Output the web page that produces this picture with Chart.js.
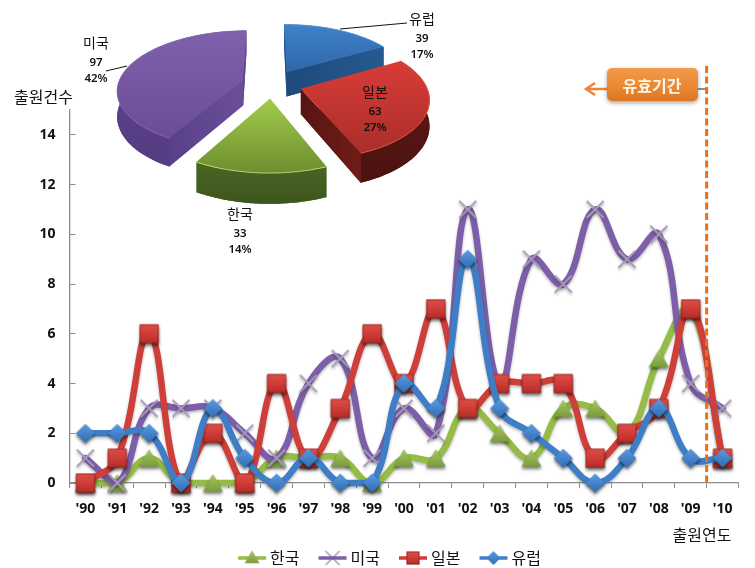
<!DOCTYPE html>
<html><head><meta charset="utf-8">
<style>html,body{margin:0;padding:0;background:#fff}#w{position:relative;width:755px;height:568px}canvas{position:absolute;left:0;top:0}</style>
<script src="https://cdn.jsdelivr.net/npm/chart.js@4"></script>
</head><body><div id="w"><canvas id="line" width="755" height="568"></canvas><canvas id="pie" width="755" height="568"></canvas></div>
<script>
const years=["'90","'91","'92","'93","'94","'95","'96","'97","'98","'99","'00","'01","'02","'03","'04","'05","'06","'07","'08","'09","'10"];
const korea=[0,0,1,0,0,0,1,1,1,0,1,1,3,2,1,3,3,2,5,7,1];
const usa=[1,0,3,3,3,2,1,4,5,1,3,2,11,4,9,8,11,9,10,4,3];
const japan=[0,1,6,0,2,0,4,1,3,6,4,7,3,4,4,4,1,2,3,7,1];
const europe=[2,2,2,0,3,1,0,1,0,0,4,3,9,3,2,1,0,1,3,1,1];
const seriesNames=["한국","미국","일본","유럽"];
const pieNames=["한국","미국","유럽","일본"];
const pieValues=[33,97,39,63];
const piePercents=["14%","42%","17%","27%"];
const yTitle="출원건수",xTitle="출원연도",callout="유효기간";
const KR='"Noto Sans CJK KR"',LAT='"Noto Sans"';

function mk(w,h,fn){const c=document.createElement('canvas');c.width=w;c.height=h;fn(c.getContext('2d'),w/2,h/2);return c;}
function shadow(g,a){g.shadowColor='rgba(0,0,0,'+a+')';g.shadowBlur=3;g.shadowOffsetY=2;g.shadowOffsetX=0;}
function tri(g,x,y,s,l){const gr=g.createLinearGradient(0,y-s,0,y+s);gr.addColorStop(0,'#a9c965');gr.addColorStop(1,'#789a38');g.fillStyle=gr;if(l)shadow(g,.35);g.beginPath();g.moveTo(x,y-s*.95);g.lineTo(x+s*1.05,y+s*.9);g.lineTo(x-s*1.05,y+s*.9);g.closePath();g.fill();}
function cross(g,x,y,s,lw){g.strokeStyle='#a79bb9';g.lineWidth=lw;g.beginPath();g.moveTo(x-s,y-s);g.lineTo(x+s,y+s);g.moveTo(x+s,y-s);g.lineTo(x-s,y+s);g.stroke();}
function sq(g,x,y,s,l){const gr=g.createLinearGradient(0,y-s,0,y+s);gr.addColorStop(0,'#dd4f49');gr.addColorStop(.5,'#cf3d38');gr.addColorStop(1,'#b52c28');if(l)shadow(g,.45);g.fillStyle=gr;g.fillRect(x-s,y-s,2*s,2*s);g.shadowColor='transparent';g.strokeStyle='rgba(120,25,22,.55)';g.lineWidth=1;g.strokeRect(x-s+.5,y-s+.5,2*s-1,2*s-1);}
function dia(g,x,y,s,l){const gr=g.createLinearGradient(0,y-s,0,y+s);gr.addColorStop(0,'#5b9be0');gr.addColorStop(1,'#2f6db5');if(l)shadow(g,.4);g.fillStyle=gr;g.beginPath();g.moveTo(x,y-s);g.lineTo(x+s,y);g.lineTo(x,y+s);g.lineTo(x-s,y);g.closePath();g.fill();}
const markers=[mk(30,30,(g,x,y)=>tri(g,x,y,9.5,1)),mk(30,30,(g,x,y)=>cross(g,x,y,8.5,2)),mk(30,30,(g,x,y)=>sq(g,x,y,9.5,1)),mk(30,30,(g,x,y)=>dia(g,x,y,9.5,1))];
const colors=['#94bc46','#7d5ea8','#cf3f3a','#3f7ec6'];
function legendIcon(i){return mk(30,18,(g,x,y)=>{if(i==1)cross(g,x,y,7,1.5);g.strokeStyle=colors[i];g.lineWidth=3.5;g.beginPath();g.moveTo(1,y);g.lineTo(29,y);g.stroke();if(i==0)tri(g,x,y-1,7,0);if(i==2)sq(g,x,y,6.5,0);if(i==3)dia(g,x,y,7,0);});}
const data4=[korea,usa,japan,europe];
const datasets=data4.map((d,i)=>({label:seriesNames[i],data:d,borderColor:colors[i],backgroundColor:colors[i],borderWidth:6.5,tension:.42,pointStyle:markers[i],pointRadius:10,clip:false,order:4-i,borderCapStyle:'round',borderJoinStyle:'round'}));

const overlay={id:'overlay',
 afterLayout(c){const l=c.legend;l.left+=22;l.right+=22;l.top+=8;l.bottom+=8;},
 beforeDatasetDraw(c){c.ctx.save();c.ctx.shadowColor='rgba(0,0,0,.28)';c.ctx.shadowBlur=3;c.ctx.shadowOffsetY=2;},
 afterDatasetDraw(c){c.ctx.restore();},
 afterDraw(c){const g=c.ctx,xs=c.scales.x,ys=c.scales.y;
  const lx=(xs.getPixelForValue(19)+xs.getPixelForValue(20))/2;
  g.save();
  g.fillStyle='#111';g.font='16px '+KR;g.textBaseline='middle';g.textAlign='left';
  g.fillText(yTitle,14,97);
  g.textAlign='center';g.fillText(xTitle,702,535);
  g.strokeStyle='#8a8f9e';g.lineWidth=2;g.beginPath();g.moveTo(697,89);g.lineTo(lx,89);g.stroke();
  g.strokeStyle='#e8701a';g.lineWidth=3;g.setLineDash([7,3.5]);g.beginPath();g.moveTo(lx,66);g.lineTo(lx,ys.getPixelForValue(0)+3);g.stroke();g.setLineDash([]);
  g.strokeStyle='#ee8433';g.lineWidth=2.5;g.beginPath();g.moveTo(607,89);g.lineTo(587,89);g.moveTo(595,83);g.lineTo(586,89);g.lineTo(595,95);g.stroke();
  g.save();g.shadowColor='rgba(0,0,0,.35)';g.shadowBlur=4;g.shadowOffsetY=2;
  const gr=g.createLinearGradient(0,68,0,102);gr.addColorStop(0,'#f19a4a');gr.addColorStop(.5,'#ec8a35');gr.addColorStop(1,'#dc7420');g.fillStyle=gr;
  g.beginPath();g.roundRect(607,68,91,33,5);g.fill();g.restore();
  g.fillStyle='#fff6e8';g.font='bold 16px '+KR;g.textAlign='center';g.fillText(callout,652,86);
  g.restore();
 }};
new Chart(document.getElementById('line'),{type:'line',data:{labels:years,datasets},plugins:[overlay],
 options:{responsive:false,animation:false,layout:{padding:{left:0,right:16,top:110,bottom:0}},
 plugins:{tooltip:{enabled:false},legend:{position:'bottom',labels:{usePointStyle:true,pointStyleWidth:20,padding:23,color:'#111',font:{family:KR,size:16},
   generateLabels(c){return c.data.datasets.map((d,i)=>({text:d.label,pointStyle:legendIcon(i),datasetIndex:i,fontColor:'#111',lineWidth:0,strokeStyle:'transparent',fillStyle:'transparent'}));}}}},
 scales:{
  x:{type:'category',offset:true,afterFit(s){s.height=36;},border:{color:'#8c8c8c',width:1.3},grid:{drawOnChartArea:false,offset:true,color:'#8c8c8c',tickLength:5,lineWidth:1},ticks:{color:'#111',font:{family:LAT,size:14,weight:'bold'},maxRotation:0,autoSkip:false,padding:13}},
  y:{min:0,max:15,afterFit(s){s.width=69.5;},border:{color:'#8c8c8c',width:1.3},grid:{drawOnChartArea:false,color:'#8c8c8c',tickLength:-6,lineWidth:1},ticks:{stepSize:2,includeBounds:false,color:'#111',padding:20,font:{family:LAT,size:14,weight:'bold'}}}
 }}});

const faces=[
 {top:['#a3cb4b','#6c8e30'],rim:'#b9d86f',band:['#5c7b2c','#3e561d'],cut:['#5c7b2c','#44601f']},
 {top:['#7f60ac','#6a4d96'],rim:'#8468b0',band:['#5f4492','#553b80'],cut:['#6a4e98','#584088']},
 {top:['#3f80c9','#2f69a9'],rim:'#5a96d6',band:['#215085','#1d4775'],cut:['#27598f','#1e4a7c']},
 {top:['#d93c37','#a92e2a'],rim:'#e0544f',band:['#641a16','#4a1210'],cut:['#701d19','#561512']}
];
const P={cx:272,cy:84,sx:125,sy:58.3,p:.152,ex:.24,depth:25};
function proj(u,v,dz){const w=1/(1-P.p*v);return [P.cx+P.sx*u*w,P.cy+P.sy*v*w+(dz?P.depth*w:0)];}
const pie3d={id:'pie3d',
 beforeDatasetsDraw(c){const g=c.ctx;const arcs=c.getDatasetMeta(0).data;
  const list=arcs.map((a,i)=>{const s=a.startAngle,e=a.endAngle,m=(s+e)/2;return {i,s,e,m,ax:P.ex*Math.cos(m),ay:P.ex*Math.sin(m)};});
  list.sort((a,b)=>Math.sin(a.m)-Math.sin(b.m));
  list.forEach(o=>{const f=faces[o.i],n=60,pts=[];
   for(let k=0;k<=n;k++){const t=o.s+(o.e-o.s)*k/n;pts.push({u:o.ax+Math.cos(t),v:o.ay+Math.sin(t),t});}
   const apex={u:o.ax,v:o.ay};
   const ys=pts.map(q=>proj(q.u,q.v)[1]).concat(proj(apex.u,apex.v)[1]);
   const top=Math.min(...ys),bot=Math.max(...ys);
   const bg=g.createLinearGradient(0,top,0,bot+P.depth*1.2);bg.addColorStop(0,f.band[0]);bg.addColorStop(1,f.band[1]);
   g.fillStyle=bg;
   g.beginPath();
   pts.forEach((q,k)=>{const a=proj(q.u,q.v,1);k?g.lineTo(a[0],a[1]):g.moveTo(a[0],a[1]);});
   let a=proj(apex.u,apex.v,1);g.lineTo(a[0],a[1]);g.closePath();g.fill();
   g.beginPath();
   pts.forEach((q,k)=>{const b=proj(q.u,q.v);k?g.lineTo(b[0],b[1]):g.moveTo(b[0],b[1]);});
   for(let k=n;k>=0;k--){const b=proj(pts[k].u,pts[k].v,1);g.lineTo(b[0],b[1]);}
   g.closePath();g.fill();
   [[pts[n],apex],[apex,pts[0]]].forEach(([A,B])=>{const a1=proj(A.u,A.v),a2=proj(B.u,B.v);if(a2[0]-a1[0]>=0)return;
    const b1=proj(A.u,A.v,1),b2=proj(B.u,B.v,1);
    const cg=g.createLinearGradient(a1[0],0,a2[0],0);cg.addColorStop(0,f.cut[0]);cg.addColorStop(1,f.cut[1]);g.fillStyle=cg;
    g.beginPath();g.moveTo(a1[0],a1[1]);g.lineTo(a2[0],a2[1]);g.lineTo(b2[0],b2[1]);g.lineTo(b1[0],b1[1]);g.closePath();g.fill();});
   const tg=g.createLinearGradient(0,top,0,bot);tg.addColorStop(0,f.top[0]);tg.addColorStop(1,f.top[1]);g.fillStyle=tg;
   g.beginPath();a=proj(apex.u,apex.v);g.moveTo(a[0],a[1]);pts.forEach(q=>{const b=proj(q.u,q.v);g.lineTo(b[0],b[1]);});g.closePath();g.fill();
   g.strokeStyle=f.rim;g.lineWidth=1;g.beginPath();pts.forEach((q,k)=>{const b=proj(q.u,q.v);k?g.lineTo(b[0],b[1]):g.moveTo(b[0],b[1]);});g.stroke();
  });
  return false;
 },
 afterDraw(c){const g=c.ctx;
  g.save();g.strokeStyle='#111';g.lineWidth=1;
  g.beginPath();g.moveTo(340,29);g.lineTo(407,23);g.moveTo(106,71);g.lineTo(127,66);g.stroke();
  const pos=[[240,214],[96,43],[422,19],[375,92]];
  g.textAlign='center';g.textBaseline='middle';g.fillStyle='#111';
  pos.forEach((p,i)=>{g.font='14px '+KR;g.fillText(pieNames[i],p[0],p[1]);g.font='600 11.5px '+LAT;g.fillText(String(pieValues[i]),p[0],p[1]+20);g.fillText(piePercents[i],p[0],p[1]+36);});
  g.restore();
 }};
new Chart(document.getElementById('pie'),{type:'pie',data:{labels:pieNames,datasets:[{data:pieValues,backgroundColor:colors,borderWidth:0}]},plugins:[pie3d],
 options:{responsive:false,animation:false,rotation:158,events:[],plugins:{legend:{display:false},tooltip:{enabled:false}}}});
</script></body></html>
